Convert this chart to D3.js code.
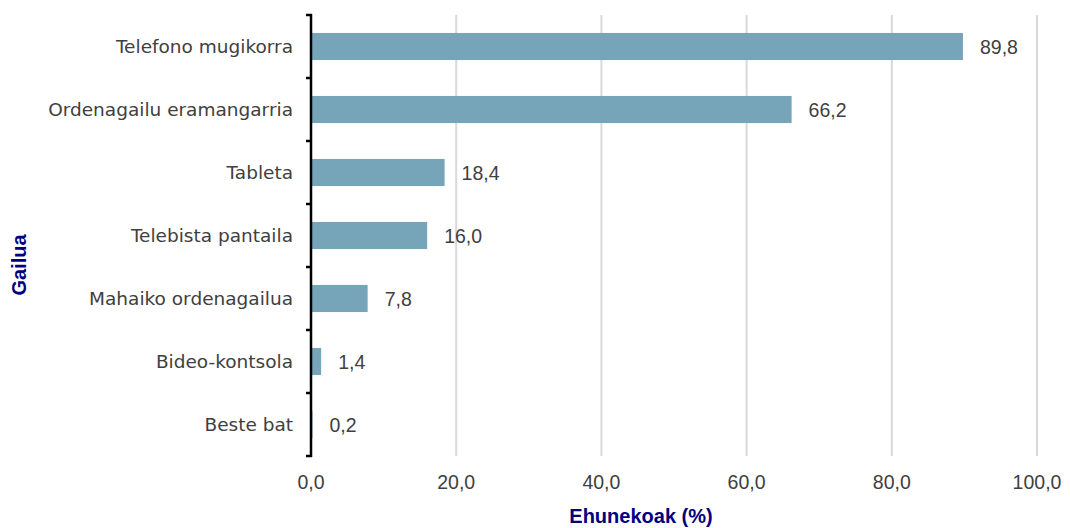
<!DOCTYPE html>
<html>
<head>
<meta charset="utf-8">
<script src="https://d3js.org/d3.v7.min.js"></script>
<style>
  body { margin: 0; background: #fff; }
  svg { display: block; }
</style>
</head>
<body>
<svg id="chart"></svg>
<script>
// data
const categories = ["Telefono mugikorra", "Ordenagailu eramangarria", "Tableta",
                    "Telebista pantaila", "Mahaiko ordenagailua", "Bideo-kontsola", "Beste bat"];
const values = [89.8, 66.2, 18.4, 16.0, 7.8, 1.4, 0.2];
const xTicks = [0, 20, 40, 60, 80, 100];
const xTitle = "Ehunekoak (%)";
const yTitle = "Gailua";

const width = 1070, height = 528;
const margin = {top: 15, right: 33, bottom: 72, left: 311};

const svg = d3.select("#chart").attr("width", width).attr("height", height);

const x = d3.scaleLinear().domain([0, 100]).range([margin.left, width - margin.right]);
const y = d3.scaleBand().domain(categories)
  .range([margin.top, height - margin.bottom])
  .paddingInner(0.57).paddingOuter(0.285);

const fmt = v => v.toFixed(1).replace(".", ",");

// vertical gridlines (behind bars)
svg.append("g")
  .selectAll("line")
  .data(xTicks.filter(d => d > 0))
  .join("line")
  .attr("x1", d => x(d)).attr("x2", d => x(d))
  .attr("y1", margin.top).attr("y2", height - margin.bottom)
  .attr("stroke", "#d9d9d9").attr("stroke-width", 2);

// bars
svg.append("g")
  .selectAll("rect")
  .data(values)
  .join("rect")
  .attr("x", x(0))
  .attr("y", (d, i) => y(categories[i]))
  .attr("width", d => x(d) - x(0))
  .attr("height", y.bandwidth())
  .attr("fill", "#76a4b9");

// value labels
svg.append("g")
  .selectAll("text")
  .data(values)
  .join("text")
  .attr("x", d => x(d) + 17)
  .attr("y", (d, i) => y(categories[i]) + y.bandwidth() / 2 + 7.5)
  .attr("font-family", "'Liberation Sans', Arial, sans-serif")
  .attr("font-size", "19.5px")
  .attr("fill", "#404040")
  .text(d => fmt(d));

// x tick labels
svg.append("g")
  .selectAll("text")
  .data(xTicks)
  .join("text")
  .attr("x", d => x(d))
  .attr("y", 489)
  .attr("text-anchor", "middle")
  .attr("font-family", "'Liberation Sans', Arial, sans-serif")
  .attr("font-size", "19.5px")
  .attr("fill", "#404040")
  .text(d => fmt(d));

// y axis line + boundary ticks
const yAxis = svg.append("g");
yAxis.append("line")
  .attr("x1", x(0)).attr("x2", x(0))
  .attr("y1", margin.top - 1).attr("y2", height - margin.bottom + 1)
  .attr("stroke", "#000").attr("stroke-width", 2.5);
yAxis.selectAll(".tick")
  .data(d3.range(categories.length + 1))
  .join("line")
  .attr("class", "tick")
  .attr("x1", x(0) - 5).attr("x2", x(0) + 1)
  .attr("y1", i => margin.top + i * y.step())
  .attr("y2", i => margin.top + i * y.step())
  .attr("stroke", "#000").attr("stroke-width", 2.5);

// category labels
svg.append("g")
  .selectAll("text")
  .data(categories)
  .join("text")
  .attr("x", 293)
  .attr("y", d => y(d) + y.bandwidth() / 2 + 6.5)
  .attr("text-anchor", "end")
  .attr("font-family", "Verdana, 'DejaVu Sans', sans-serif")
  .attr("font-size", "18.5px")
  .attr("fill", "#404040")
  .text(d => d);

// axis titles
svg.append("text")
  .attr("x", 641)
  .attr("y", 523)
  .attr("text-anchor", "middle")
  .attr("font-family", "'Liberation Sans', Arial, sans-serif")
  .attr("font-weight", "bold")
  .attr("font-size", "20px")
  .attr("fill", "#000080")
  .text(xTitle);

svg.append("text")
  .attr("transform", "translate(26,265) rotate(-90)")
  .attr("text-anchor", "middle")
  .attr("font-family", "'Liberation Sans', Arial, sans-serif")
  .attr("font-weight", "bold")
  .attr("font-size", "20px")
  .attr("fill", "#000080")
  .text(yTitle);
</script>
</body>
</html>
